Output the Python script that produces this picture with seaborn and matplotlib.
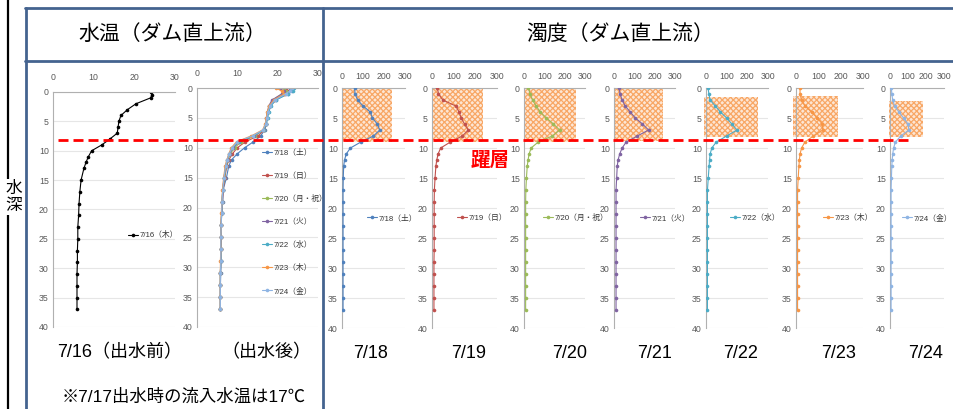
import numpy as np
import pandas as pd
import matplotlib
matplotlib.use('Agg')
import matplotlib.pyplot as plt
import seaborn as sns
from matplotlib.lines import Line2D
from matplotlib.patches import Rectangle
from matplotlib import transforms

# ---- data ----
depth_temp = [0, 0.5, 1, 2, 3, 4, 5, 6, 7, 8, 9, 10, 11, 12, 13, 15, 17, 19, 21, 23, 25, 27, 29, 31, 33, 35, 37]
depth_turb = [0, 1, 2, 3, 4, 5, 6, 7, 8, 9, 10, 11, 12, 13, 15, 17, 19, 21, 23, 25, 27, 29, 31, 33, 35, 37]

# water temperature before the flood (7/16)
temp_0716 = [24.0, 24.3, 24.0, 20.4, 18.3, 16.7, 16.2, 16.0, 15.8, 14.0, 12.0, 9.5, 8.7, 8.1, 7.6,
             6.9, 6.6, 6.4, 6.3, 6.1, 6.1, 6.0, 6.0, 5.9, 5.9, 5.9, 5.9]

# water temperature after the flood
temp_0718 = [23.0, 23.5, 22.5, 19.5, 18.2, 17.7, 17.4, 17.2, 16.8, 15.8, 14.0, 11.8, 10.0, 8.6, 7.9,
             7.3, 6.5, 6.4, 6.1, 6.0, 6.0, 5.9, 5.9, 5.9, 5.8, 5.8, 5.8]
temp_0719 = [22.0, 22.5, 21.8, 19.2, 18.0, 17.6, 17.3, 17.1, 16.7, 15.2, 12.0, 10.0, 8.8, 7.9, 7.4,
             6.9, 6.5, 6.3, 6.1, 6.0, 6.0, 5.9, 5.9, 5.8, 5.8, 5.8, 5.8]
temp_0720 = [21.5, 22.0, 21.0, 18.8, 17.9, 17.5, 17.3, 17.0, 16.5, 14.5, 11.0, 9.3, 8.3, 7.7, 7.3,
             6.8, 6.4, 6.2, 6.1, 6.0, 6.0, 5.9, 5.9, 5.8, 5.8, 5.8, 5.8]
temp_0721 = [20.5, 21.5, 21.0, 18.6, 17.8, 17.5, 17.2, 17.0, 16.5, 14.2, 10.5, 9.0, 8.1, 7.6, 7.2,
             6.7, 6.4, 6.2, 6.1, 6.0, 6.0, 5.9, 5.9, 5.8, 5.8, 5.8, 5.8]
temp_0722 = [24.0, 23.8, 22.5, 19.6, 18.3, 17.8, 17.5, 17.2, 16.6, 14.0, 10.3, 8.8, 8.0, 7.5, 7.1,
             6.7, 6.4, 6.2, 6.1, 6.0, 5.9, 5.9, 5.9, 5.8, 5.8, 5.8, 5.8]
temp_0723 = [19.5, 21.0, 21.5, 19.0, 17.9, 17.4, 17.2, 16.9, 16.3, 13.5, 9.8, 8.5, 7.9, 7.4, 7.0,
             6.6, 6.3, 6.2, 6.0, 6.0, 5.9, 5.9, 5.8, 5.8, 5.8, 5.8, 5.8]
temp_0724 = [23.5, 23.0, 22.0, 19.3, 18.1, 17.6, 17.3, 17.0, 16.4, 13.8, 10.0, 8.7, 8.0, 7.5, 7.1,
             6.7, 6.4, 6.2, 6.1, 6.0, 5.9, 5.9, 5.9, 5.8, 5.8, 5.8, 5.8]

# turbidity after the flood
turb_0718 = [60, 62, 75, 100, 135, 145, 168, 180, 150, 90, 40, 20, 12, 8, 6, 5, 5, 5, 5, 5, 5, 5, 5, 5, 5, 5]
turb_0719 = [25, 30, 50, 110, 125, 135, 150, 168, 140, 85, 40, 28, 22, 18, 14, 11, 10, 10, 10, 10, 10, 9, 9, 9, 9, 9]
turb_0720 = [22, 30, 42, 60, 80, 110, 145, 175, 140, 70, 35, 25, 20, 16, 12, 9, 8, 8, 8, 8, 8, 8, 8, 8, 8, 8]
turb_0721 = [25, 30, 40, 55, 80, 105, 140, 170, 115, 60, 40, 28, 20, 16, 13, 10, 10, 10, 10, 10, 10, 10, 10, 10, 10, 10]
turb_0722 = [10, 14, 20, 45, 70, 100, 125, 150, 100, 50, 28, 20, 17, 15, 11, 7, 7, 7, 7, 7, 7, 7, 7, 7, 7, 7]
turb_0723 = [18, 18, 25, 40, 70, 95, 118, 120, 78, 40, 25, 18, 15, 13, 10, 7, 7, 7, 7, 7, 7, 7, 7, 7, 7, 7]
turb_0724 = [8, 10, 15, 25, 50, 75, 100, 105, 60, 30, 20, 15, 12, 10, 8, 6, 6, 6, 6, 6, 6, 6, 6, 6, 6, 6]

dates = ['7/18', '7/19', '7/20', '7/21', '7/22', '7/23', '7/24']
legend_labels = ['7/18（土）', '7/19（日）', '7/20（月・祝）', '7/21（火）', '7/22（水）', '7/23（木）', '7/24（金）']
temps_after = [temp_0718, temp_0719, temp_0720, temp_0721, temp_0722, temp_0723, temp_0724]
turbs = [turb_0718, turb_0719, turb_0720, turb_0721, turb_0722, turb_0723, turb_0724]
colors = ['#4F81BD', '#C0504D', '#9BBB59', '#8064A2', '#4BACC6', '#F79646', '#8EB4E3']

# turbid water layer (hatched boxes): turbidity range and depth range
box_x0 = [0, 0, 0, 0, -12, -12, -3]
box_x1 = [240, 235, 258, 243, 253, 190, 182]
box_top = [0, 0, 0, 0, 1.5, 1.3, 2.2]
box_bottom = [9.0, 9.0, 9.0, 8.8, 8.2, 8.2, 8.2]
thermocline_depth = 8.6

# ---- figure ----
sns.set_theme(style='white')
plt.rcParams['font.family'] = ['Liberation Sans', 'Noto Sans CJK JP', 'DejaVu Sans']
plt.rcParams['hatch.linewidth'] = 0.9

W, H = 954, 409
fig = plt.figure(figsize=(W / 100, H / 100), dpi=100)
fig.patch.set_facecolor('white')


def px_axes(x0, x1, y0, y1):
    return fig.add_axes([x0 / W, 1 - y1 / H, (x1 - x0) / W, (y1 - y0) / H])


def style(ax, xmax, xstep, xpad):
    ax.set_xlim(0, xmax)
    ax.set_ylim(40, 0)
    ax.set_xticks(np.arange(0, xmax + 1, xstep))
    ax.set_yticks(range(0, 41, 5))
    ax.xaxis.tick_top()
    ax.tick_params(axis='both', length=0, labelsize=6.3, colors='#595959')
    ax.tick_params(axis='x', pad=xpad)
    ax.tick_params(axis='y', pad=3)
    for s in ['right', 'bottom']:
        ax.spines[s].set_visible(False)
    for s in ['left', 'top']:
        ax.spines[s].set_color('#B0B0B0')
        ax.spines[s].set_linewidth(0.8)
    ax.grid(axis='y', color='#E6E6E6', lw=0.8)
    ax.set_axisbelow(True)
    ax.set_xlabel('')
    ax.set_ylabel('')
    ax.patch.set_alpha(0)


def small_legend(ax, x, y, loc='center left', spacing=0.5):
    leg = ax.legend(loc=loc, bbox_to_anchor=(x, y), frameon=False, fontsize=5.6,
                    handlelength=1.3, handletextpad=0.2, borderpad=0, borderaxespad=0,
                    labelspacing=spacing)
    for t in leg.get_texts():
        t.set_color('#333333')


line_kw = dict(marker='o', markersize=2.6, markeredgewidth=0, linewidth=0.8)

# water temperature before the flood
ax1 = px_axes(53, 175, 92, 327)
sns.lineplot(x=temp_0716, y=depth_temp, orient='y', color='black', label='7/16（木）', ax=ax1, **line_kw)
style(ax1, 30, 10, 7)
small_legend(ax1, 0.615, 0.39)

# water temperature after the flood
ax2 = px_axes(197, 318, 88, 327)
for lab, vals, col in zip(legend_labels, temps_after, colors):
    sns.lineplot(x=vals, y=depth_temp, orient='y', color=col, label=lab, ax=ax2, **line_kw)
style(ax2, 30, 10, 7)
small_legend(ax2, 0.54, 0.745, loc='upper left', spacing=1.95)

# turbidity panels
turb_x = [(342, 405), (432, 497), (524, 585), (614, 675), (706, 768), (796, 863), (890, 944)]
leg_x = [0.39, 0.385, 0.31, 0.43, 0.39, 0.40, 0.22]
turb_axes = []
for i in range(len(dates)):
    ax = px_axes(turb_x[i][0], turb_x[i][1], 88, 328)
    ax.add_patch(Rectangle((box_x0[i], box_top[i]), box_x1[i] - box_x0[i], box_bottom[i] - box_top[i],
                           facecolor='#FDE6D4', edgecolor='#F8A765', hatch='xxxxxx', linewidth=0,
                           zorder=1, clip_on=False))
    sns.lineplot(x=turbs[i], y=depth_turb, orient='y', color=colors[i], label=legend_labels[i],
                 ax=ax, zorder=3, **line_kw)
    style(ax, 300, 100, 5)
    small_legend(ax, leg_x[i], 0.458)
    turb_axes.append(ax)

# thermocline line across all panels
trans = transforms.blended_transform_factory(fig.transFigure, turb_axes[0].transData)
fig.add_artist(Line2D([58 / W, 910 / W], [thermocline_depth, thermocline_depth], transform=trans,
                      color='#FF0000', lw=2, dashes=(3.6, 1.8), zorder=10))
fig.text(490 / W, 1 - 160 / H, '躍層', color='#FF0000', fontsize=14, fontweight='bold',
         family='Noto Sans CJK JP', ha='center', va='center')

# table frame
frame = '#44638F'
fig.add_artist(Line2D([8 / W, 8 / W], [0, 1], color='black', lw=1.6))
fig.add_artist(Line2D([25 / W, 1], [1 - 8 / H, 1 - 8 / H], color=frame, lw=2))
fig.add_artist(Line2D([25 / W, 1], [1 - 61 / H, 1 - 61 / H], color=frame, lw=2))
fig.add_artist(Line2D([26 / W, 26 / W], [0, 1 - 8 / H], color=frame, lw=2))
fig.add_artist(Line2D([323 / W, 323 / W], [0, 1 - 8 / H], color=frame, lw=2))

fig.text(172 / W, 1 - 34 / H, '水温（ダム直上流）', fontsize=15, family='Noto Sans CJK JP',
         ha='center', va='center', color='black')
fig.text(620 / W, 1 - 34 / H, '濁度（ダム直上流）', fontsize=15, family='Noto Sans CJK JP',
         ha='center', va='center', color='black')
fig.text(14 / W, 1 - 197 / H, '水\n深', fontsize=12, family='Noto Sans CJK JP', linespacing=1.0,
         ha='center', va='center', color='black',
         bbox=dict(facecolor='white', edgecolor='none', pad=0.5), zorder=5)

bottom_labels = ['7/16（出水前）', '（出水後）'] + dates
bottom_x = [120, 266, 371, 469, 570, 655, 741, 839, 926]
for lab, x in zip(bottom_labels, bottom_x):
    fig.text(x / W, 1 - 353 / H, lab, fontsize=13, ha='center', va='center', color='black')
fig.text(184 / W, 1 - 397 / H, '※7/17出水時の流入水温は17℃', fontsize=12.5, ha='center',
         va='center', color='black')

fig.savefig('out.png', dpi=100, facecolor='white')
